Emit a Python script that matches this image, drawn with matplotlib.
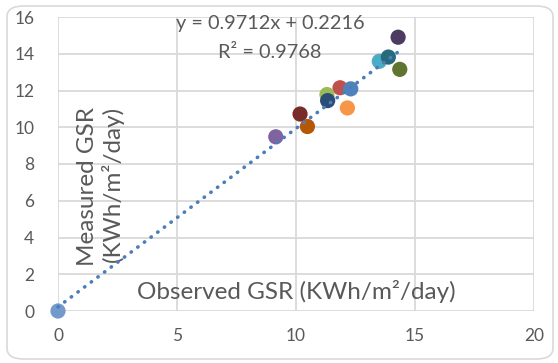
import matplotlib
matplotlib.use("Agg")
import matplotlib.pyplot as plt
from matplotlib.patches import FancyBboxPatch

plt.rcParams['font.family'] = ['Lato', 'DejaVu Sans']

# Data (observed x, measured y)
observed = [0.0, 11.85, 11.3, 9.15, 13.5, 12.16, 11.33, 10.17, 14.36, 14.29, 13.88, 10.48, 12.3]
measured = [0.0, 12.15, 11.78, 9.48, 13.59, 11.05, 11.45, 10.72, 13.15, 14.9, 13.82, 10.04, 12.09]
colors = ['#729ACA', '#C0504D', '#9BBB59', '#8064A2', '#4BACC6', '#F79646',
          '#2C4D75', '#772C2A', '#5F7530', '#4D3B62', '#276A7C', '#B65708', '#4F81BD']
slope = 0.9712
intercept = 0.2216
eq_text = "y = 0.9712x + 0.2216"
r2_text = "R² = 0.9768"
xticks = [0, 5, 10, 15, 20]
yticks = [0, 2, 4, 6, 8, 10, 12, 14, 16]

W, H = 558, 363
fig = plt.figure(figsize=(W / 100, H / 100), dpi=100)
fig.patch.set_facecolor('white')

border = FancyBboxPatch((7 / W, 4 / H), (W - 12) / W, (H - 10) / H,
                        boxstyle="round,pad=0,rounding_size=0.03",
                        transform=fig.transFigure, facecolor='none',
                        edgecolor='#D9D9D9', linewidth=1.2, zorder=-5)
fig.patches.append(border)

ax = fig.add_axes([58 / W, 1 - 311 / H, (534 - 58) / W, (311 - 17) / H])
ax.set_facecolor('none')
ax.set_xlim(0, 20)
ax.set_ylim(0, 16)
ax.set_xticks(xticks)
ax.set_yticks(yticks)
ax.grid(True, color='#D9D9D9', linewidth=1.3, zorder=0)
ax.set_axisbelow(True)
for s in ax.spines.values():
    s.set_visible(False)
ax.tick_params(length=0, labelsize=12.5, labelcolor='#595959')
ax.tick_params(axis='y', pad=17)
ax.tick_params(axis='x', pad=12)

ax.scatter(observed, measured, s=120, c=colors, edgecolors='none', zorder=3, clip_on=False)

xmax = max(observed)
ax.plot([0, xmax], [intercept, slope * xmax + intercept], linestyle=(0, (0.1, 2.2)),
        color='#4A7EBB', linewidth=2.6, dash_capstyle='round', zorder=4, clip_on=False)

tc = '#595959'
ax.text(270 / W, 1 - 28.5 / H, eq_text, transform=fig.transFigure, ha='center', va='baseline',
        fontsize=14.3, color=tc)
ax.text(270 / W, 1 - 58 / H, r2_text, transform=fig.transFigure, ha='center', va='baseline',
        fontsize=14.3, color=tc)

ax.text(296 / W, 1 - 299 / H, "Observed GSR (KWh/m²/day)", transform=fig.transFigure,
        ha='center', va='baseline', fontsize=17.5, color=tc)
ax.text(93.5 / W, 1 - 186 / H, "Measured GSR", transform=fig.transFigure, rotation=90,
        rotation_mode='anchor', ha='center', va='baseline', fontsize=17.5, color=tc)
ax.text(119.5 / W, 1 - 184 / H, "(KWh/m²/day)", transform=fig.transFigure, rotation=90,
        rotation_mode='anchor', ha='center', va='baseline', fontsize=17.5, color=tc)

fig.savefig("out.png", dpi=100)
